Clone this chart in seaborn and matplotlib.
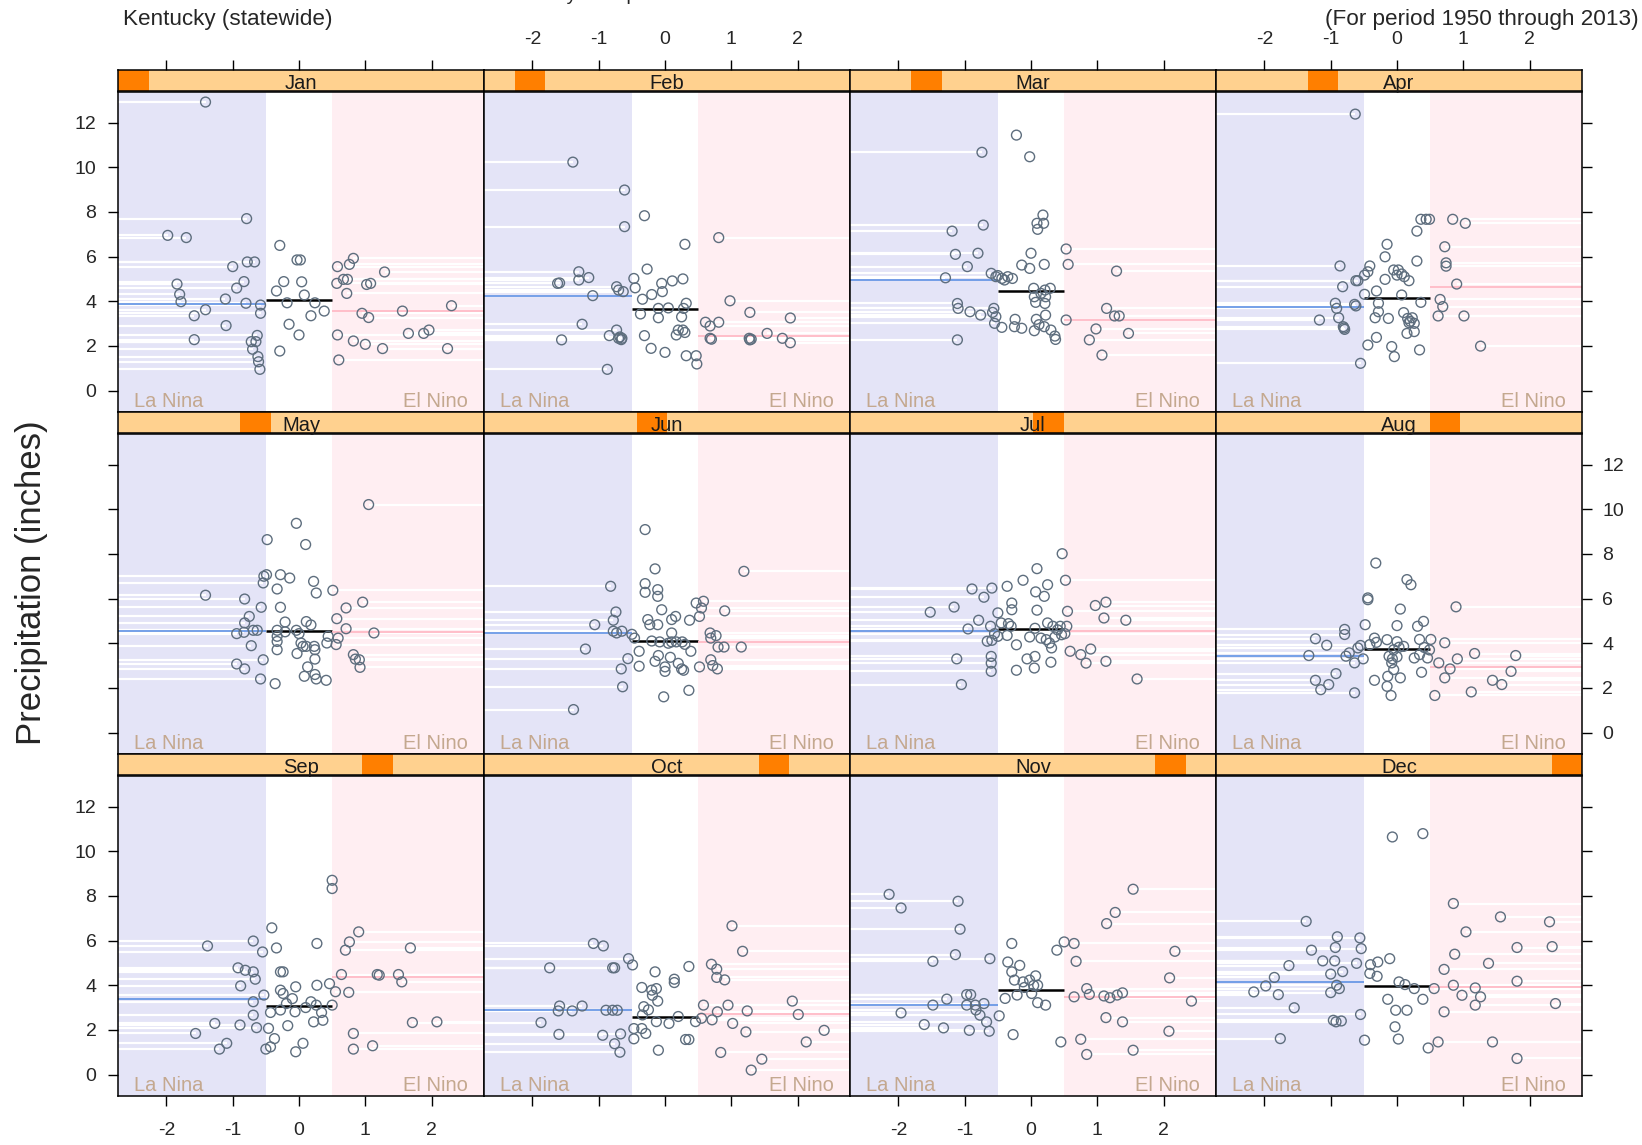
import pandas as pd
import matplotlib
matplotlib.use('Agg')
import matplotlib.pyplot as plt
import seaborn as sns
from matplotlib.patches import Rectangle

MONTHS = ['Jan', 'Feb', 'Mar', 'Apr', 'May', 'Jun',
          'Jul', 'Aug', 'Sep', 'Oct', 'Nov', 'Dec']

# ENSO index (x) and precipitation in inches (y), one pair of lists per month
JAN_ENSO = [-1.41, -0.79, -1.98, -1.70, -0.29, -0.03, 0.02, -0.78, -0.67, -1.00, 0.82, 0.76, 0.58, 1.29,
            -1.84, -0.83, -0.94, -0.23, 0.04, -0.34, -1.80, -1.78, 0.57, 0.67, 0.73, 1.02, 1.08, 0.72,
            -1.11, -0.80, -0.58, -0.58, 0.08, -0.18, 0.24, 0.38, 0.18, -1.41, -1.58, -1.10, -0.15, 0.00,
            0.95, 1.05, 1.56, 2.30, -1.58, -0.63, -0.72, -0.65, -0.70, -0.29, -0.62, -0.61, -0.59, 0.58,
            0.82, 1.00, 1.26, 1.65, 1.88, 1.96, 2.24, 0.60]
JAN_PRECIP = [12.92, 7.70, 6.95, 6.85, 6.50, 5.85, 5.85, 5.76, 5.76, 5.55, 5.92, 5.65, 5.55, 5.31,
              4.77, 4.88, 4.59, 4.88, 4.87, 4.46, 4.31, 3.98, 4.80, 4.98, 4.98, 4.75, 4.80, 4.35,
              4.10, 3.91, 3.83, 3.46, 4.28, 3.93, 3.93, 3.56, 3.35, 3.62, 3.35, 2.91, 2.97, 2.49,
              3.46, 3.27, 3.56, 3.80, 2.28, 2.47, 2.19, 2.19, 1.85, 1.77, 1.52, 1.29, 0.95, 2.49,
              2.22, 2.07, 1.88, 2.56, 2.56, 2.71, 1.88, 1.37]

FEB_ENSO = [-1.39, -0.61, -0.31, -0.61, 0.81, 0.30, -0.27, -1.30, -1.30, -1.15, -1.62, -1.59, -0.47, -0.05,
            0.11, 0.27, -0.73, -0.70, -0.63, -1.09, -0.04, -0.34, -0.10, -0.37, -0.10, 0.32, 0.28, 0.98,
            1.28, 1.89, 0.61, 0.68, 0.81, -1.25, -0.84, -0.73, -0.70, -0.65, -1.56, -0.31, 0.20, 0.27,
            0.17, 0.68, 1.27, 1.28, 1.54, 1.77, 1.89, -0.21, 0.00, 0.32, 0.47, 0.48, -0.87, -0.68,
            -0.66, 0.30, 0.70, -0.20, 0.05, -0.45, 1.30, 0.25]
FEB_PRECIP = [10.23, 8.98, 7.83, 7.34, 6.85, 6.55, 5.44, 5.32, 4.95, 5.06, 4.80, 4.82, 5.02, 4.80,
              4.91, 5.00, 4.65, 4.50, 4.43, 4.25, 4.43, 4.09, 3.68, 3.43, 3.26, 3.91, 3.68, 4.02,
              3.50, 3.25, 3.06, 2.89, 3.06, 2.97, 2.46, 2.71, 2.34, 2.34, 2.27, 2.46, 2.71, 2.71,
              2.49, 2.34, 2.34, 2.27, 2.56, 2.34, 2.14, 1.89, 1.71, 1.56, 1.56, 1.19, 0.95, 2.40,
              2.28, 2.60, 2.30, 4.30, 3.70, 4.60, 2.30, 3.30]

MAR_ENSO = [-0.22, -0.74, -0.02, 0.18, 0.19, 0.10, 0.09, -0.72, -1.19, 0.53, 0.56, -1.14, -0.80, 0.00,
            -0.96, -0.14, -0.02, 0.20, -1.29, -0.60, -0.53, -0.44, -0.35, -0.28, 1.29, 0.04, 0.05, 0.07,
            0.21, 0.22, 0.21, 0.29, -1.11, -1.10, -0.92, -0.76, -0.56, -0.53, -0.55, -0.44, -0.24, -0.25,
            -0.14, 0.08, 0.05, 0.20, 0.22, 0.30, 0.36, 0.37, 0.53, 1.14, 1.26, 1.33, 0.98, 0.88,
            1.47, 1.07, -1.11, -0.50, -0.40, 0.15, -0.58, 0.12]
MAR_PRECIP = [11.44, 10.67, 10.47, 7.86, 7.49, 7.22, 7.49, 7.41, 7.14, 6.34, 5.65, 6.10, 6.15, 6.15,
              5.55, 5.62, 5.47, 5.65, 5.05, 5.25, 5.10, 5.02, 5.10, 5.02, 5.35, 4.58, 4.20, 3.95,
              4.50, 4.20, 3.90, 4.58, 3.90, 3.68, 3.53, 3.38, 3.68, 3.31, 3.01, 2.83, 3.19, 2.86,
              2.79, 3.19, 2.68, 2.86, 3.38, 2.71, 2.44, 2.29, 3.16, 3.68, 3.34, 3.34, 2.76, 2.27,
              2.56, 1.59, 2.27, 5.15, 4.95, 4.35, 3.50, 2.95]

APR_ENSO = [-0.63, 0.36, 0.44, 0.49, 0.84, 1.03, 0.30, 0.72, -0.15, -0.18, -0.86, 0.74, 0.74, -0.41,
            -0.44, -0.49, 0.30, -0.05, 0.02, 0.07, 0.00, 0.11, 0.18, -0.62, -0.59, -0.18, -0.82, 0.90,
            0.07, -0.49, -0.31, -0.93, -0.91, -0.64, -0.62, -0.28, -0.28, 0.36, 0.65, 0.69, -1.17, -0.88,
            -0.81, -0.79, -0.33, -0.13, 0.10, 0.16, 0.18, 0.23, 0.26, 0.26, 0.62, 1.01, 0.15, -0.31,
            -0.44, -0.08, -0.04, 0.34, 1.26, -0.55, -0.80, 0.20]
APR_PRECIP = [12.38, 7.67, 7.67, 7.67, 7.67, 7.49, 7.14, 6.44, 6.55, 5.99, 5.58, 5.72, 5.57, 5.58,
              5.32, 5.17, 5.80, 5.40, 5.40, 5.22, 5.17, 5.10, 4.92, 4.92, 4.92, 4.98, 4.65, 4.77,
              4.28, 4.31, 4.46, 3.91, 3.68, 3.86, 3.79, 3.91, 3.53, 3.95, 4.08, 3.76, 3.16, 3.26,
              2.86, 2.74, 3.26, 3.23, 3.49, 3.23, 3.04, 3.26, 3.01, 2.64, 3.34, 3.34, 2.56, 2.38,
              2.04, 1.97, 1.52, 1.82, 1.99, 1.22, 2.80, 3.10]

MAY_ENSO = [1.05, -0.04, -0.48, 0.10, -0.53, -0.49, -0.54, -0.28, -0.14, 0.22, 0.26, 0.51, -0.33, -1.41,
            -0.82, 0.96, 0.71, -0.57, -0.28, 0.57, -0.75, -0.82, -0.83, -0.94, -0.69, -0.63, -0.21, 0.11,
            0.18, 0.71, 1.13, -0.33, -0.21, -0.04, 0.00, -0.33, -0.33, 0.44, 0.42, 0.56, 0.59, -0.72,
            0.03, 0.06, 0.11, 0.23, 0.24, -0.33, -0.03, 0.82, 0.85, 0.91, -0.54, 0.24, -0.94, -0.82,
            0.92, 0.13, 0.08, 0.24, 0.26, 0.41, -0.58, -0.36]
MAY_PRECIP = [10.21, 9.37, 8.64, 8.42, 7.00, 7.07, 6.70, 7.07, 6.92, 6.77, 6.25, 6.37, 6.43, 6.15,
              5.98, 5.84, 5.58, 5.61, 5.61, 5.10, 5.20, 4.91, 4.49, 4.43, 4.58, 4.58, 4.95, 4.97,
              4.82, 4.65, 4.46, 4.58, 4.51, 4.58, 4.43, 4.31, 4.08, 4.31, 4.01, 3.94, 4.23, 3.89,
              4.01, 3.86, 3.86, 3.86, 3.71, 3.71, 3.54, 3.49, 3.29, 3.26, 3.26, 3.29, 3.07, 2.85,
              2.92, 2.94, 2.52, 2.60, 2.40, 2.34, 2.40, 2.19]

JUN_ENSO = [-0.30, 1.19, -0.15, -0.82, -0.30, -0.30, -0.11, -0.11, 0.58, 0.47, 0.55, 0.90, -0.05, -0.26,
            -0.23, -0.11, 0.10, 0.16, 0.37, 0.52, -0.74, -0.78, -1.06, -0.78, -0.73, -0.65, -0.46, 0.10,
            -0.08, 0.10, 0.17, 0.26, 0.39, 0.68, 0.69, 0.77, 0.80, 0.89, 1.15, -1.20, -0.39, -0.56,
            -0.39, -0.66, -0.15, 0.00, 0.00, 0.08, 0.25, 0.28, 0.52, 0.69, 0.79, -0.64, 0.36, -0.02,
            -1.38, -0.20, 0.05, 0.30, -0.10, 0.20, 0.72, -0.50]
JUN_PRECIP = [9.09, 7.22, 7.33, 6.55, 6.67, 6.28, 6.40, 6.10, 5.88, 5.80, 5.58, 5.45, 5.50, 5.06,
              4.83, 4.83, 5.06, 5.20, 5.03, 5.20, 5.40, 5.03, 4.83, 4.54, 4.46, 4.54, 4.23, 4.46,
              4.06, 4.06, 4.06, 4.06, 3.64, 4.46, 4.23, 4.34, 3.83, 3.83, 3.83, 3.74, 3.64, 3.31,
              2.97, 2.85, 3.19, 2.94, 2.74, 3.37, 2.85, 2.79, 2.94, 3.26, 2.85, 2.05, 1.89, 1.60,
              1.03, 4.10, 4.00, 3.95, 3.45, 3.10, 3.00, 4.40]

JUL_ENSO = [0.47, 0.09, -0.12, -0.36, -0.59, -0.71, -0.89, 0.25, 0.07, 0.20, 0.52, 1.13, 0.97, 1.10,
            1.43, 0.55, -1.52, -1.16, -0.29, -0.29, 0.09, -0.50, -0.79, -0.95, -0.61, -0.45, -0.34, -0.30,
            0.06, 0.25, 0.33, 0.44, 0.54, 0.46, 0.51, -0.55, -0.59, -0.50, -0.66, -0.36, -0.22, -0.02,
            0.15, 0.23, 0.28, 0.31, 0.36, 0.59, 0.75, 0.90, 0.83, -1.12, -0.60, -0.60, -0.60, -0.06,
            0.06, 0.05, -0.22, 0.30, 1.13, -1.05, 1.60, 0.40]
JUL_PRECIP = [8.01, 7.34, 6.82, 6.55, 6.47, 6.06, 6.43, 6.62, 6.30, 6.10, 6.82, 5.84, 5.69, 5.13,
              5.03, 5.43, 5.39, 5.62, 5.80, 5.50, 5.48, 5.36, 5.03, 4.64, 4.76, 4.91, 4.88, 4.76,
              4.67, 4.91, 4.76, 4.76, 4.76, 4.38, 4.43, 4.43, 4.13, 4.31, 4.09, 4.35, 3.93, 4.28,
              4.23, 4.16, 4.01, 3.79, 4.28, 3.64, 3.49, 3.74, 3.11, 3.30, 3.41, 3.11, 2.74, 3.30,
              3.41, 2.89, 2.79, 3.15, 3.19, 2.15, 2.40, 4.60]

AUG_ENSO = [-0.32, 0.15, 0.21, -0.44, -0.44, 0.89, 0.05, -0.48, 0.00, 0.31, 0.40, -0.79, -0.79, -1.23,
            -1.06, -0.34, -0.15, -0.31, -0.41, 0.00, 0.03, -0.05, 0.10, 0.34, 0.51, 0.72, 0.41, 0.49,
            -1.33, -0.77, -0.72, -0.64, -0.51, -0.59, -0.55, -0.12, -0.07, 0.00, 0.26, 0.34, 0.46, 0.63,
            0.91, 1.17, 1.79, 0.80, 0.72, 0.37, 1.72, 1.44, 1.58, -0.92, -1.23, -1.03, -1.15, -0.34,
            -0.14, -0.15, 0.05, -0.09, -0.64, 0.57, 1.12, -0.08, -0.05]
AUG_PRECIP = [7.59, 6.85, 6.62, 6.03, 5.95, 5.63, 5.53, 4.83, 4.79, 4.76, 4.98, 4.62, 4.39, 4.20,
              3.91, 4.23, 4.16, 4.04, 3.94, 4.07, 3.82, 3.71, 3.86, 4.17, 4.17, 4.02, 3.81, 3.70,
              3.45, 3.42, 3.57, 3.12, 3.30, 3.79, 3.90, 3.42, 3.30, 3.39, 3.34, 3.49, 3.34, 3.12,
              3.30, 3.54, 3.45, 2.85, 2.45, 2.70, 2.74, 2.34, 2.15, 2.64, 2.34, 2.15, 1.92, 2.34,
              2.52, 2.07, 2.45, 1.66, 1.78, 1.66, 1.82, 3.12, 2.82]

SEP_ENSO = [0.50, 0.50, -0.41, -1.38, -0.69, -0.55, -0.34, 0.27, 0.90, 0.76, 0.70, 1.68, -0.92, -0.81,
            -0.69, -0.66, -0.28, -0.24, 0.64, 1.18, 1.21, 1.50, 1.55, -0.88, 0.27, 0.46, -0.05, -0.28,
            -0.24, 0.55, 0.75, -0.53, -0.69, -0.19, -0.06, 0.18, 0.26, 0.50, -0.43, -0.28, 0.34, 0.36,
            0.22, -0.69, -1.27, -0.89, -0.64, -0.46, -0.17, -1.56, 1.71, 2.08, 0.82, -0.37, -0.43, -0.50,
            0.06, -0.05, -1.09, -1.20, 0.82, 1.11, 0.10, -0.10]
SEP_PRECIP = [8.70, 8.33, 6.57, 5.76, 5.98, 5.49, 5.67, 5.87, 6.39, 5.94, 5.57, 5.67, 4.78, 4.67,
              4.60, 4.27, 4.60, 4.60, 4.48, 4.48, 4.45, 4.48, 4.15, 3.97, 4.00, 4.07, 3.93, 3.78,
              3.63, 3.71, 3.68, 3.56, 3.26, 3.18, 2.81, 3.26, 3.11, 3.11, 2.78, 2.89, 2.78, 2.43,
              2.36, 2.66, 2.29, 2.22, 2.10, 2.07, 2.19, 1.84, 2.33, 2.36, 1.84, 1.61, 1.24, 1.14,
              1.40, 1.02, 1.40, 1.14, 1.14, 1.29, 3.00, 3.40]

OCT_ENSO = [1.01, 1.17, -1.08, -0.93, -1.74, -0.79, -0.76, -0.55, -0.49, -0.15, 0.36, 0.14, 0.14, 0.70,
            0.78, 0.78, 0.90, -0.35, -0.20, -0.13, -0.11, -0.19, 1.92, 2.01, -1.59, -1.61, -1.25, -1.40,
            -0.89, -0.79, -0.72, -1.87, -0.32, -0.34, -0.13, 0.06, -0.29, -0.35, -0.47, 0.58, 0.79, 0.95,
            1.24, 0.55, 0.71, 0.46, 1.02, 1.22, 2.40, -1.60, -0.94, -0.67, -0.47, -0.76, -0.68, 0.31,
            0.36, -0.10, 0.84, 2.13, 1.46, 1.30, -0.25, 0.20]
OCT_PRECIP = [6.66, 5.52, 5.87, 5.76, 4.78, 4.78, 4.78, 5.19, 4.91, 4.60, 4.84, 4.27, 4.12, 4.94,
              4.72, 4.35, 4.24, 3.90, 3.78, 3.85, 3.29, 3.55, 3.29, 2.69, 3.07, 2.85, 3.07, 2.85,
              2.88, 2.88, 2.88, 2.33, 3.04, 2.67, 2.37, 2.29, 1.84, 2.06, 2.06, 3.11, 2.81, 3.11,
              2.85, 2.52, 2.45, 2.37, 2.29, 1.91, 1.98, 1.80, 1.76, 1.82, 1.60, 1.38, 1.00, 1.57,
              1.57, 1.09, 0.99, 1.46, 0.69, 0.20, 2.90, 2.60]

NOV_ENSO = [1.54, -2.14, -1.96, -1.10, 1.27, 1.14, -1.07, -0.29, 0.50, 0.65, 0.39, 2.17, -1.14, -1.48,
            -0.62, 0.68, -0.35, -0.17, -0.29, 2.09, -0.25, -0.12, -0.02, 0.07, 0.04, -1.27, -0.97, -0.91,
            -1.48, -0.97, -1.96, -0.84, -0.71, -0.83, -0.77, -0.67, -0.63, -0.48, -0.39, -0.21, 0.01, 0.10,
            0.22, 0.65, 0.84, 0.88, 1.10, 1.19, 1.30, 1.38, 2.42, 1.13, 1.38, 2.08, -1.61, -1.32,
            -0.93, -0.27, 0.45, 0.75, 0.84, 1.54, 0.10, -0.10]
NOV_PRECIP = [8.30, 8.07, 7.46, 7.76, 7.26, 6.76, 6.51, 5.87, 5.94, 5.87, 5.57, 5.52, 5.37, 5.07,
              5.19, 5.07, 5.04, 4.89, 4.60, 4.33, 4.23, 4.15, 4.23, 4.42, 3.99, 3.38, 3.58, 3.58,
              3.11, 3.11, 2.76, 3.11, 3.18, 2.89, 2.66, 2.36, 1.94, 2.63, 3.41, 3.56, 3.63, 3.22,
              3.11, 3.48, 3.85, 3.59, 3.52, 3.44, 3.56, 3.66, 3.29, 2.55, 2.36, 1.94, 2.24, 2.09,
              1.98, 1.79, 1.46, 1.58, 0.90, 1.09, 4.00, 3.90]

DEC_ENSO = [-0.07, 0.39, 0.85, 1.56, 2.30, -1.37, 1.04, -0.90, -0.93, -0.56, -0.54, -1.29, 1.81, 2.34,
            0.87, 1.38, -1.12, -0.94, -0.61, -0.82, -1.00, -1.63, -1.85, -0.40, -0.29, -0.11, -0.41, 0.71,
            1.81, -0.91, -1.00, -0.87, -1.98, -2.16, -1.79, 0.03, 0.12, 0.26, 0.56, 0.85, 1.18, 1.26,
            0.98, 1.18, -0.14, -0.02, 0.15, 0.39, 2.39, 0.71, -1.55, -0.55, -0.96, -0.92, -0.84, -0.03,
            0.02, -0.49, -1.76, 0.47, 0.62, 1.44, 1.81, -0.30]
DEC_PRECIP = [10.64, 10.79, 7.66, 7.06, 6.84, 6.86, 6.39, 6.17, 5.69, 6.12, 5.64, 5.57, 5.69, 5.73,
              5.39, 4.98, 5.09, 5.09, 4.98, 4.61, 4.50, 4.88, 4.35, 4.92, 5.04, 5.19, 4.53, 4.71,
              4.18, 4.00, 3.67, 3.85, 3.97, 3.70, 3.58, 4.15, 4.03, 3.85, 3.85, 4.00, 3.88, 3.48,
              3.55, 3.11, 3.37, 2.88, 2.88, 3.37, 3.18, 2.81, 2.99, 2.69, 2.43, 2.36, 2.40, 2.14,
              1.59, 1.54, 1.61, 1.19, 1.46, 1.46, 0.72, 4.40]

# median precipitation per ENSO phase, per month
LA_NINA_MEDIAN = [3.86, 4.25, 4.95, 3.76, 4.55, 4.45, 4.55, 3.45, 3.38, 2.88, 3.11, 4.15]
NEUTRAL_MEDIAN = [4.06, 3.65, 4.46, 4.16, 4.55, 4.08, 4.66, 3.75, 3.08, 2.58, 3.78, 3.97]
EL_NINO_MEDIAN = [3.56, 2.44, 3.16, 4.65, 4.50, 4.04, 4.55, 2.94, 4.37, 2.69, 3.48, 3.90]

XTICKS = [-2, -1, 0, 1, 2]
XTICK_LABELS = ['-2', '-1', '0', '1', '2']
YTICKS = [0, 2, 4, 6, 8, 10, 12]
YTICK_LABELS = ['0', '2', '4', '6', '8', '10', '12']

XLIM = (-2.73, 2.79)
YLIM = (-0.96, 13.37)

W, H = 1642, 1145
LA_NINA_BG = '#E4E4F7'
EL_NINO_BG = '#FFEEF2'
STRIP_BG = '#FFD18F'
STRIP_FG = '#FF7F00'
POINT_COLOR = '#5E6E7E'
PHASE_TEXT = '#C4A88F'


def main():
    sns.set_style('white')
    plt.rcParams['font.family'] = ['Liberation Sans', 'DejaVu Sans']
    plt.rcParams['axes.unicode_minus'] = False

    enso = [JAN_ENSO, FEB_ENSO, MAR_ENSO, APR_ENSO, MAY_ENSO, JUN_ENSO,
            JUL_ENSO, AUG_ENSO, SEP_ENSO, OCT_ENSO, NOV_ENSO, DEC_ENSO]
    precip = [JAN_PRECIP, FEB_PRECIP, MAR_PRECIP, APR_PRECIP, MAY_PRECIP, JUN_PRECIP,
              JUL_PRECIP, AUG_PRECIP, SEP_PRECIP, OCT_PRECIP, NOV_PRECIP, DEC_PRECIP]

    fig = plt.figure(figsize=(W / 100, H / 100), dpi=100)

    for i, month in enumerate(MONTHS):
        r, c = i // 4, i % 4
        left = 118 + c * 366
        top = 92 + r * 342

        ax = fig.add_axes([left / W, 1 - (top + 320) / H, 366 / W, 320 / H])
        df = pd.DataFrame({'enso': enso[i], 'precip': precip[i]})
        nina = df[df.enso < -0.5]
        nino = df[df.enso > 0.5]

        ax.axvspan(XLIM[0], -0.5, color=LA_NINA_BG, lw=0, zorder=0)
        ax.axvspan(0.5, XLIM[1], color=EL_NINO_BG, lw=0, zorder=0)
        ax.hlines(nina.precip, XLIM[0], nina.enso, color='white', lw=1.6, zorder=1)
        ax.hlines(nino.precip, nino.enso, XLIM[1], color='white', lw=1.6, zorder=1)
        ax.hlines(LA_NINA_MEDIAN[i], XLIM[0], -0.5, color='#6A98E6', lw=1.3, zorder=2)
        ax.hlines(NEUTRAL_MEDIAN[i], -0.5, 0.5, color='black', lw=1.8, zorder=2)
        ax.hlines(EL_NINO_MEDIAN[i], 0.5, XLIM[1], color='#FFBAC6', lw=1.3, zorder=2)

        sns.scatterplot(data=df, x='enso', y='precip', ax=ax, marker='o', s=50,
                        color=POINT_COLOR, facecolor='none', edgecolor=POINT_COLOR,
                        linewidth=1.0, zorder=3, legend=False)

        ax.text(0.043, 0.017, 'La Nina', transform=ax.transAxes, ha='left',
                va='baseline', fontsize=14.5, color=PHASE_TEXT)
        ax.text(0.957, 0.017, 'El Nino', transform=ax.transAxes, ha='right',
                va='baseline', fontsize=14.5, color=PHASE_TEXT)

        ax.set_xlim(XLIM)
        ax.set_ylim(YLIM)
        ax.set_xlabel('')
        ax.set_ylabel('')
        ax.set_xticks(XTICKS)
        ax.set_xticklabels(XTICK_LABELS)
        ax.set_yticks(YTICKS)
        ax.set_yticklabels(YTICK_LABELS)
        for sp in ax.spines.values():
            sp.set_color('black')
            sp.set_linewidth(1.1)
        ax.tick_params(bottom=False, top=False, left=False, right=False,
                       labelbottom=False, labeltop=False, labelleft=False, labelright=False,
                       direction='out', length=7.5, width=1, color='black', labelsize=14)
        if r == 2:
            ax.tick_params(axis='x', bottom=True, labelbottom=(c in (0, 2)), pad=11)
        if c == 0:
            ax.tick_params(axis='y', left=True, labelleft=(r in (0, 2)), pad=8)
        if c == 3:
            ax.tick_params(axis='y', right=True, labelright=(r == 1), pad=7)

        # strip with the month shingle
        sax = fig.add_axes([left / W, 1 - (top - 1) / H, 366 / W, 21 / H])
        sax.set_facecolor(STRIP_BG)
        sax.add_patch(Rectangle((i / 12, 0), 1 / 12, 1, transform=sax.transAxes,
                                color=STRIP_FG, lw=0))
        sax.text(0.5, 0.36, month, transform=sax.transAxes, ha='center', va='center',
                 fontsize=14.5, color='#1a1a1a')
        sax.set_xlim(XLIM)
        sax.set_ylim(0, 1)
        sax.set_yticks([])
        for sp in sax.spines.values():
            sp.set_color('black')
            sp.set_linewidth(1.1)
        if r == 0:
            sax.set_xticks(XTICKS)
            sax.set_xticklabels(XTICK_LABELS)
            sax.tick_params(axis='x', bottom=False, labelbottom=False, top=True,
                            labeltop=(c in (1, 3)), direction='out', length=7.5,
                            width=1, color='black', labelsize=14, pad=8.5)
        else:
            sax.set_xticks([])

    fig.text(31 / W, 1 - 583 / H, 'Precipitation (inches)', rotation=90,
             ha='center', va='center', fontsize=25)
    fig.text(123 / W, 1 - 20 / H, 'Kentucky (statewide)', ha='left', va='center',
             fontsize=16.2)
    fig.text(1639 / W, 1 - 20 / H, '(For period 1950 through 2013)', ha='right',
             va='center', fontsize=16.2)
    # The reference's main title is cut off at the top edge: only the descenders of a
    # 'y' and a 'p' show. The wording below is a guess that fits those two marks;
    # the rest of the string falls outside the figure, as in the reference.
    fig.text(508 / W, 1 + 0.5 / H, 'Monthly Precipitation', ha='left', va='baseline',
             fontsize=14)

    fig.savefig('out.png', dpi=100)
    plt.close(fig)


if __name__ == '__main__':
    main()
